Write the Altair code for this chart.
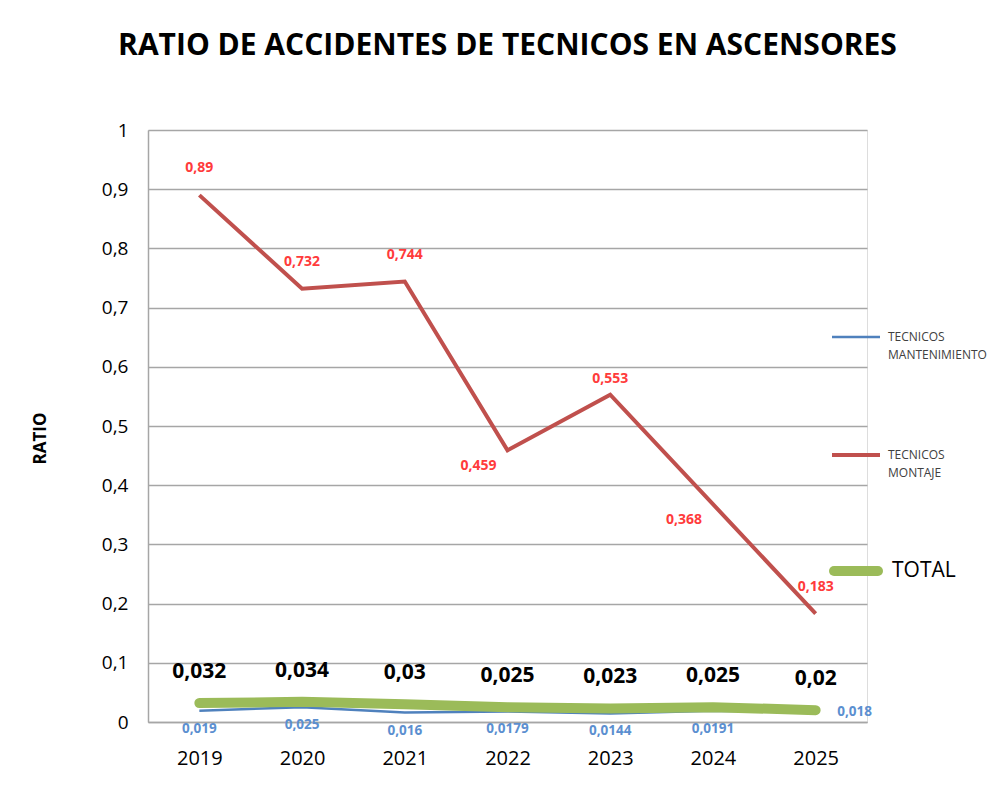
import altair as alt
import pandas as pd

years = ["2019", "2020", "2021", "2022", "2023", "2024", "2025"]
mantenimiento = [0.019, 0.025, 0.016, 0.0179, 0.0144, 0.0191, 0.018]
montaje = [0.89, 0.732, 0.744, 0.459, 0.553, 0.368, 0.183]
total = [0.032, 0.034, 0.03, 0.025, 0.023, 0.025, 0.02]
y_ticks = [0, 0.1, 0.2, 0.3, 0.4, 0.5, 0.6, 0.7, 0.8, 0.9, 1]

series_names = ["mantenimiento", "montaje", "total"]
rows = []
for name, vals in zip(series_names, [mantenimiento, montaje, total]):
    for y, v in zip(years, vals):
        rows.append({"year": y, "series": name, "value": v})
df = pd.DataFrame(rows)

FONT = "Open Sans"
GRID = "#a6a6a6"
BLUE = "#4f81bd"
RED = "#c0504d"
GREEN = "#9bbb59"

W, H = 719, 592

x_enc = alt.X(
    "year:O",
    scale=alt.Scale(type="point", padding=0.5),
    axis=alt.Axis(
        title=None, labelAngle=0, labelFontSize=20, labelFont=FONT,
        labelColor="#000000", labelPadding=26, ticks=False,
        domainColor=GRID, domainWidth=1.5,
    ),
)
y_enc = alt.Y(
    "value:Q",
    scale=alt.Scale(domain=[0, 1], nice=False),
    axis=alt.Axis(
        values=y_ticks, title="RATIO", titleFontSize=17, titleFont=FONT,
        titleFontWeight="bold", titleColor="#000000", titleX=-108, titleY=H / 2 + 12,
        titleAngle=-90, titleAlign="center", titleBaseline="middle",
        labelExpr="replace(format(datum.value, '.1~f'), '.', ',')",
        labelFontSize=19, labelFont=FONT, labelColor="#000000", labelPadding=20,
        ticks=False, grid=True, gridColor=GRID, gridWidth=1.5,
        domainColor=GRID, domainWidth=1.5,
    ),
)

base = alt.Chart(df).encode(x=x_enc, y=y_enc).transform_calculate(
    label="replace(toString(datum.value), '.', ',')"
)

line_mant = base.transform_filter("datum.series == 'mantenimiento'").mark_line(
    color=BLUE, strokeWidth=2.5
)
line_total = base.transform_filter("datum.series == 'total'").mark_line(
    color=GREEN, strokeWidth=10, strokeCap="round", strokeJoin="round"
)
line_mont = base.transform_filter("datum.series == 'montaje'").mark_line(
    color=RED, strokeWidth=4
)

RED_TXT = "#ff3b3b"
txt_mont_above = base.transform_filter(
    "datum.series == 'montaje' && indexof(['2022', '2023', '2024'], datum.year) < 0"
).mark_text(color=RED_TXT, font=FONT, fontWeight="bold", fontSize=14, dy=-27).encode(
    text="label:N"
)
txt_mont_near = base.transform_filter(
    "datum.series == 'montaje' && datum.year == '2023'"
).mark_text(color=RED_TXT, font=FONT, fontWeight="bold", fontSize=14, dy=-16).encode(
    text="label:N"
)
txt_mont_left = base.transform_filter(
    "datum.series == 'montaje' && (datum.year == '2022' || datum.year == '2024')"
).mark_text(color=RED_TXT, font=FONT, fontWeight="bold", fontSize=14, dx=-29, dy=16).encode(
    text="label:N"
)
txt_total = base.transform_filter("datum.series == 'total'").mark_text(
    color="#000000", font=FONT, fontWeight="bold", fontSize=21, dy=-31
).encode(text="label:N")
BLUE_TXT = "#5b8fd0"
txt_mant_below = base.transform_filter(
    "datum.series == 'mantenimiento' && datum.year != '2025'"
).mark_text(color=BLUE_TXT, font=FONT, fontWeight="bold", fontSize=13.5, dy=18).encode(
    text="label:N"
)
txt_mant_right = base.transform_filter(
    "datum.series == 'mantenimiento' && datum.year == '2025'"
).mark_text(color=BLUE_TXT, font=FONT, fontWeight="bold", fontSize=13.5, dx=39, dy=1).encode(
    text="label:N"
)

# manual legend (right side)
leg = pd.DataFrame({"k": [0]})
lg = alt.Chart(leg)
leg_blue = lg.mark_rule(color=BLUE, strokeWidth=2.5).encode(
    x=alt.value(684), x2=alt.value(732), y=alt.value(207)
)
leg_blue_t = lg.mark_text(
    align="left", baseline="middle", font=FONT, fontSize=12, color="#404040", lineHeight=18
).encode(x=alt.value(740), y=alt.value(207), text=alt.value(["TECNICOS", "MANTENIMIENTO"]))
leg_red = lg.mark_rule(color=RED, strokeWidth=4).encode(
    x=alt.value(684), x2=alt.value(732), y=alt.value(325)
)
leg_red_t = lg.mark_text(
    align="left", baseline="middle", font=FONT, fontSize=12, color="#404040", lineHeight=18
).encode(x=alt.value(740), y=alt.value(325), text=alt.value(["TECNICOS", "MONTAJE"]))
leg_green = lg.mark_rule(color=GREEN, strokeWidth=10, strokeCap="round").encode(
    x=alt.value(686), x2=alt.value(730), y=alt.value(441)
)
leg_green_t = lg.mark_text(
    align="left", baseline="middle", font=FONT, fontSize=21, color="#000000"
).encode(x=alt.value(744), y=alt.value(441), text=alt.value("TOTAL"))

chart = alt.layer(
    line_mant, line_total, line_mont,
    txt_mont_above, txt_mont_near, txt_mont_left, txt_total, txt_mant_below, txt_mant_right,
    leg_blue, leg_blue_t, leg_red, leg_red_t, leg_green, leg_green_t,
).properties(
    width=W, height=H,
    title=alt.TitleParams(
        "RATIO DE ACCIDENTES DE TECNICOS EN ASCENSORES",
        font=FONT, fontSize=30, fontWeight="bold", color="#000000",
        anchor="middle", offset=60,
    ),
    autosize=alt.AutoSizeParams(type="none"),
    padding={"left": 140, "top": 122, "right": 123, "bottom": 59},
).configure_view(stroke=None).configure(background="#ffffff")

chart.save("out.html", embed_options={"renderer": "svg", "actions": False})
